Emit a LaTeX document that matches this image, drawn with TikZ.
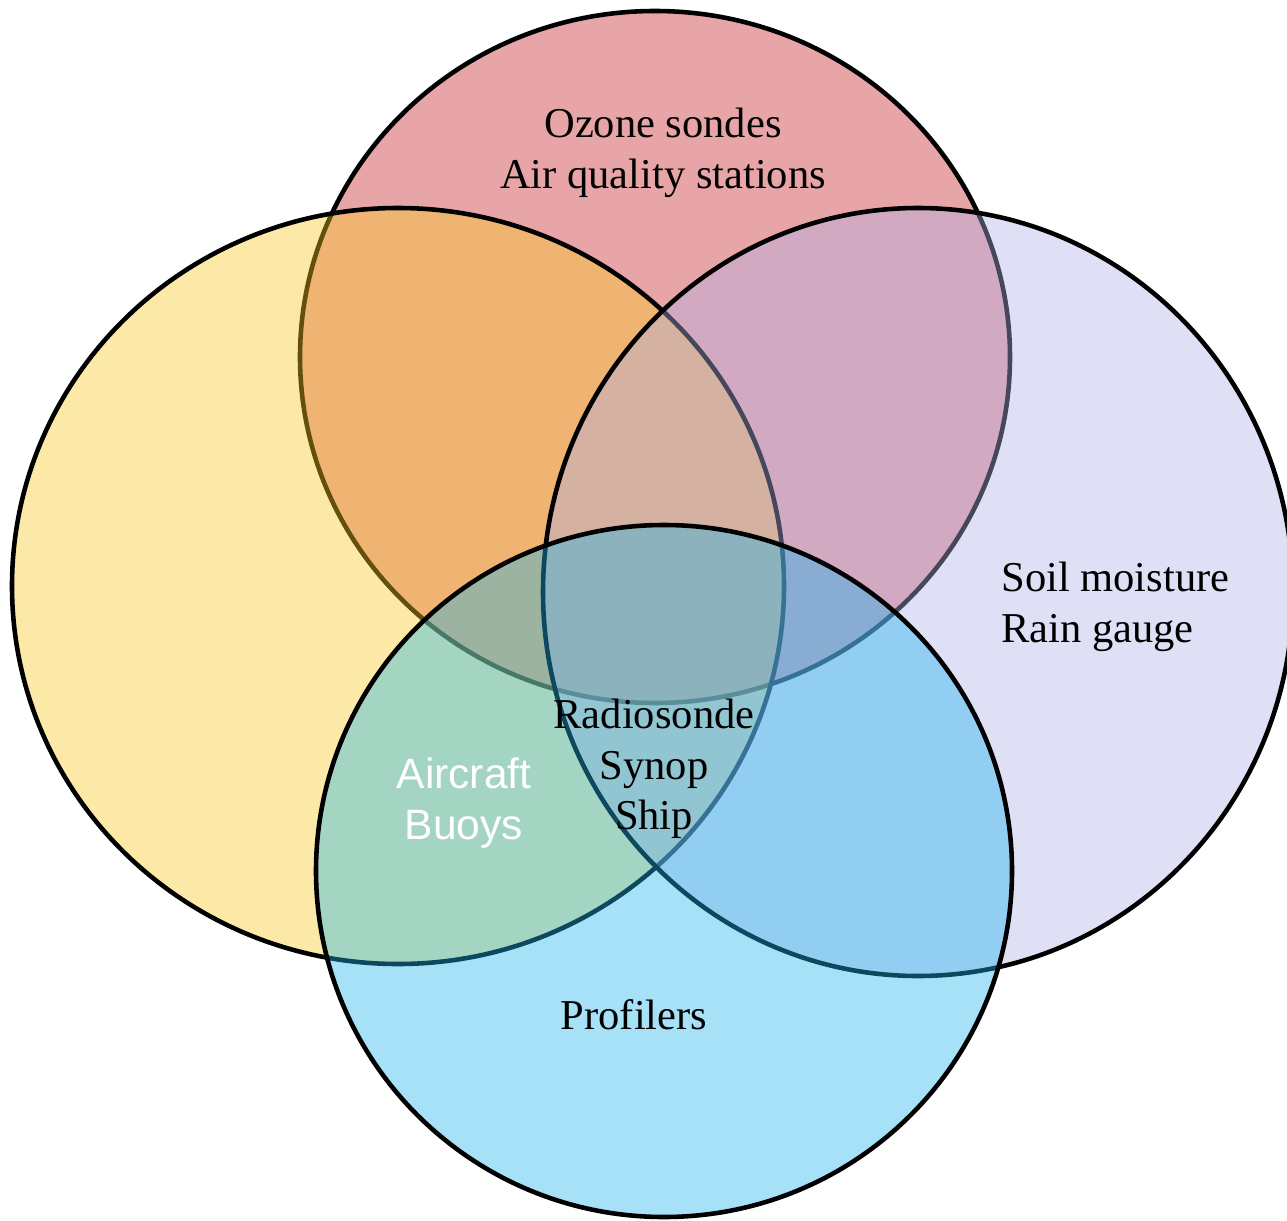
\documentclass[tikz,border=0pt]{standalone}
\usepackage{fontspec}
\setmainfont{Liberation Serif}
\setsansfont{Liberation Sans}
\definecolor{ozonered}{RGB}{197,30,35}
\definecolor{oceanyellow}{RGB}{250,200,35}
\definecolor{landviolet}{RGB}{175,175,232}
\definecolor{upperblue}{RGB}{32,180,235}
\tikzset{
    group/.style = {
        draw=black,
        line width=2.6pt,
        fill=#1,
        fill opacity=0.4
    },
    tag/.style = {
        inner sep=0pt,
        align=center,
        font=\fontsize{24.2}{28.7}\selectfont
    },
    whitetag/.style = {
        tag,
        white,
        font=\sffamily\fontsize{24.2}{28.7}\selectfont
    }
}
\begin{document}
\begin{tikzpicture}[x=0.02cm,y=-0.02cm]
    \useasboundingbox (0,0) rectangle (1287,1220);
    % Centres of the four groups
    \coordinate (chem) at (655,357);
    \coordinate (ocean) at (398,586);
    \coordinate (land) at (918,592);
    \coordinate (upper) at (664,871);

    % Groups
    \draw[group=ozonered] (chem) ellipse [x radius=355, y radius=346];
    \draw[group=oceanyellow] (ocean) ellipse [x radius=386, y radius=378];
    \draw[group=landviolet] (land) ellipse [x radius=375, y radius=384];
    \draw[group=upperblue] (upper) ellipse [x radius=348, y radius=346];

    % Texts
    \node[tag] (chemtxt) at (663,153) {Ozone sondes\\Air quality stations};
    \node[tag, align=left, anchor=west] (landtxt) at (1001,607) {Soil moisture\\Rain gauge};
    \node[tag] (coretxt) at (654,769) {Radiosonde\\Synop\\Ship};
    \node[whitetag] (oceantxt) at (464,803) {Aircraft\\Buoys};
    \node[tag] (uppertxt) at (634,1015) {Profilers};
\end{tikzpicture}
\end{document}
